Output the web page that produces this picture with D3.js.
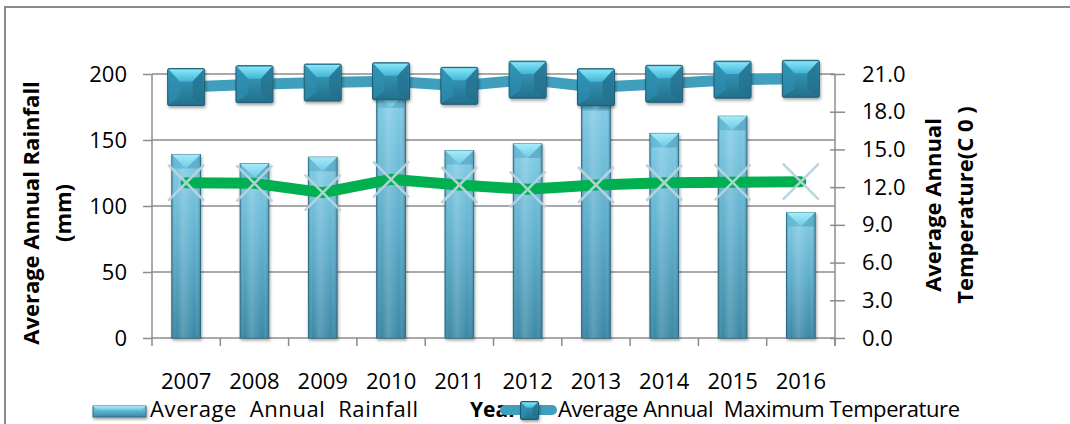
<!DOCTYPE html>
<html>
<head>
<meta charset="utf-8">
<script src="https://cdn.jsdelivr.net/npm/d3@7/dist/d3.min.js"></script>
<style>
  html, body { margin: 0; padding: 0; background: #fff; }
  svg { display: block; }
  text { font-family: "Open Sans", "Noto Sans", sans-serif; fill: #000; }
</style>
</head>
<body>
<svg id="chart" width="1070" height="424"></svg>
<script>
// ---------------- data ----------------
const years = ["2007","2008","2009","2010","2011","2012","2013","2014","2015","2016"];
const rainfall = [139, 132, 137, 185, 142, 147, 183, 155, 168, 95];            // mm
const maxTemp = [19.96, 20.19, 20.32, 20.42, 20.06, 20.55, 19.95, 20.22, 20.55, 20.62]; // °C
const meanTemp = [12.35, 12.3, 11.56, 12.62, 12.17, 11.83, 12.17, 12.35, 12.38, 12.43]; // °C
const rainTicks = [0, 50, 100, 150, 200];
const tempTicks = [0, 3, 6, 9, 12, 15, 18, 21];
const labels = {
  yLeft: ["Average Annual Rainfall", "(mm)"],
  yRight: ["Average Annual", "Temperature(C 0 )"],
  x: "Year",
  legendRain: "Average  Annual  Rainfall",
  legendTemp: "Average Annual  Maximum Temperature"
};

// ---------------- layout ----------------
const svg = d3.select("#chart");
const plot = { left: 152, right: 835, top: 74, bottom: 338 };

const x = d3.scaleBand().domain(years).range([plot.left, plot.right]).padding(0);
const yL = d3.scaleLinear().domain([0, 200]).range([plot.bottom, plot.top]);
const yR = d3.scaleLinear().domain([0, 21]).range([plot.bottom, plot.top]);
const cx = d => x(d) + x.bandwidth() / 2;

// ---------------- defs ----------------
const defs = svg.append("defs");
const shadow = defs.append("filter").attr("id", "shadow")
  .attr("x", "-30%").attr("y", "-30%").attr("width", "160%").attr("height", "160%");
shadow.append("feDropShadow").attr("dx", 1).attr("dy", 2).attr("stdDeviation", 1.5)
  .attr("flood-color", "#000").attr("flood-opacity", 0.35);

const barGrad = defs.append("linearGradient").attr("id", "barV").attr("x1", 0).attr("y1", 0).attr("x2", 0).attr("y2", 1);
barGrad.append("stop").attr("offset", "0%").attr("stop-color", "#82cde7");
barGrad.append("stop").attr("offset", "50%").attr("stop-color", "#5eaecc");
barGrad.append("stop").attr("offset", "100%").attr("stop-color", "#3a87a5");

const barH = defs.append("linearGradient").attr("id", "barH").attr("x1", 0).attr("y1", 0).attr("x2", 1).attr("y2", 0);
barH.append("stop").attr("offset", "0%").attr("stop-color", "#1d5a70").attr("stop-opacity", 0.35);
barH.append("stop").attr("offset", "15%").attr("stop-color", "#ffffff").attr("stop-opacity", 0.0);
barH.append("stop").attr("offset", "40%").attr("stop-color", "#ffffff").attr("stop-opacity", 0.18);
barH.append("stop").attr("offset", "80%").attr("stop-color", "#ffffff").attr("stop-opacity", 0.0);
barH.append("stop").attr("offset", "100%").attr("stop-color", "#1d5a70").attr("stop-opacity", 0.35);

const capGrad = defs.append("linearGradient").attr("id", "cap").attr("x1", 0).attr("y1", 0).attr("x2", 0).attr("y2", 1);
capGrad.append("stop").attr("offset", "0%").attr("stop-color", "#a6ecfa");
capGrad.append("stop").attr("offset", "100%").attr("stop-color", "#6cc9e3");

const mkGrad = defs.append("linearGradient").attr("id", "mk").attr("x1", 0).attr("y1", 0).attr("x2", 0).attr("y2", 1);
mkGrad.append("stop").attr("offset", "0%").attr("stop-color", "#3aa3c4");
mkGrad.append("stop").attr("offset", "100%").attr("stop-color", "#236f8c");

const mkTop = defs.append("linearGradient").attr("id", "mkTop").attr("x1", 0).attr("y1", 0).attr("x2", 0).attr("y2", 1);
mkTop.append("stop").attr("offset", "0%").attr("stop-color", "#86e6f8");
mkTop.append("stop").attr("offset", "100%").attr("stop-color", "#42b6d6");

// ---------------- outer frame ----------------
svg.append("path").attr("d", "M5,430 L5,7 L1075,7")
  .attr("fill", "none").attr("stroke", "#8c8c8c").attr("stroke-width", 2);

// ---------------- gridlines ----------------
svg.append("g").selectAll("line").data(rainTicks.filter(d => d > 0)).join("line")
  .attr("x1", plot.left).attr("x2", plot.right)
  .attr("y1", d => yL(d)).attr("y2", d => yL(d))
  .attr("stroke", "#8c8c8c").attr("stroke-width", 1.5);

// ---------------- axes ----------------
const axisStyle = g => {
  g.select(".domain").attr("stroke", "#8c8c8c").attr("stroke-width", 1.5);
  g.selectAll(".tick line").attr("stroke", "#8c8c8c").attr("stroke-width", 1.5);
  g.selectAll(".tick text").attr("font-size", 22).attr("fill", "#000")
    .attr("font-family", "'Open Sans', sans-serif");
};

const leftAxis = svg.append("g").attr("transform", `translate(${plot.left},0)`)
  .call(d3.axisLeft(yL).tickValues(rainTicks).tickSize(9).tickSizeOuter(0).tickPadding(16).tickFormat(d3.format("d")));
axisStyle(leftAxis);
leftAxis.select(".domain").attr("d", `M0,${plot.top}V${plot.bottom + 8}`);

const rightAxis = svg.append("g").attr("transform", `translate(${plot.right},0)`)
  .call(d3.axisRight(yR).tickValues(tempTicks).tickSize(10).tickSizeOuter(0).tickPadding(17).tickFormat(d3.format(".1f")));
axisStyle(rightAxis);
rightAxis.selectAll(".tick line").attr("x1", -5);
rightAxis.select(".domain").attr("d", `M0,${plot.top}V${plot.bottom + 8}`);

const bottomAxis = svg.append("g").attr("transform", `translate(0,${plot.bottom})`)
  .call(d3.axisBottom(x).tickSize(0).tickSizeOuter(0).tickPadding(35));
axisStyle(bottomAxis);
bottomAxis.select(".domain").attr("d", `M${plot.left},0H${plot.right}`);
// category boundary ticks
svg.append("g").selectAll("line").data(years).join("line")
  .attr("x1", d => x(d) + x.bandwidth()).attr("x2", d => x(d) + x.bandwidth())
  .attr("y1", plot.bottom).attr("y2", plot.bottom + 8)
  .attr("stroke", "#8c8c8c").attr("stroke-width", 1.5);

// ---------------- bars ----------------
const bw = x.bandwidth() * 0.42;
const bars = svg.append("g").selectAll("g").data(years).join("g").attr("filter", "url(#shadow)");
bars.each(function (d, i) {
  const g = d3.select(this);
  const x0 = cx(d) - bw / 2, top = yL(rainfall[i]), h = plot.bottom - top;
  g.append("rect").attr("x", x0).attr("y", top).attr("width", bw).attr("height", h)
    .attr("fill", "url(#barV)").attr("stroke", "#2e6f87").attr("stroke-width", 1);
  g.append("rect").attr("x", x0).attr("y", top).attr("width", bw).attr("height", h)
    .attr("fill", "url(#barH)");
  g.append("path")
    .attr("d", `M${x0},${top} L${x0 + bw},${top} L${x0 + bw / 2},${top + 14} Z`)
    .attr("fill", "url(#cap)");
  g.append("path")
    .attr("d", `M${x0},${top} L${x0 + bw / 2},${top + 14} L${x0},${top + 14} Z`)
    .attr("fill", "#4aa3c3").attr("opacity", 0.45);
  g.append("path")
    .attr("d", `M${x0 + bw},${top} L${x0 + bw / 2},${top + 14} L${x0 + bw},${top + 14} Z`)
    .attr("fill", "#3b8fae").attr("opacity", 0.45);
});

// ---------------- mean temperature line (green) ----------------
const lineR = d3.line().x((d, i) => cx(years[i])).y(d => yR(d));
svg.append("path").datum(meanTemp).attr("d", lineR)
  .attr("fill", "none").attr("stroke", "#00b050").attr("stroke-width", 11)
  .attr("stroke-linejoin", "round").attr("stroke-linecap", "round");

const xs = 18;
svg.append("g").selectAll("path").data(meanTemp).join("path")
  .attr("d", (d, i) => {
    const px = cx(years[i]), py = yR(d);
    return `M${px - xs},${py - xs}L${px + xs},${py + xs}M${px + xs},${py - xs}L${px - xs},${py + xs}`;
  })
  .attr("stroke", "#b7d3de").attr("stroke-width", 2.5).attr("fill", "none").attr("opacity", 0.95);

// ---------------- max temperature line + markers ----------------
svg.append("path").datum(maxTemp).attr("d", lineR)
  .attr("fill", "none").attr("stroke", "#3f9fbd").attr("stroke-width", 11)
  .attr("stroke-linejoin", "round").attr("stroke-linecap", "round");

function drawMarker(g, px, py, s) {
  const h = s / 2;
  const m = g.append("g").attr("filter", "url(#shadow)");
  m.append("rect").attr("x", px - h).attr("y", py - h).attr("width", s).attr("height", s)
    .attr("rx", 1.5).attr("fill", "url(#mk)").attr("stroke", "#1f5c73").attr("stroke-width", 1);
  m.append("path")
    .attr("d", `M${px - h + 1},${py - h + 1} L${px + h - 1},${py - h + 1} L${px + h * 0.35},${py - h * 0.3} L${px - h * 0.35},${py - h * 0.3} Z`)
    .attr("fill", "url(#mkTop)");
  m.append("path")
    .attr("d", `M${px - h + 1},${py - h + 1} L${px - h * 0.35},${py - h * 0.3} L${px - h * 0.35},${py + h * 0.55} L${px - h + 1},${py + h - 1} Z`)
    .attr("fill", "#2d8fb0").attr("opacity", 0.7);
  m.append("path")
    .attr("d", `M${px + h - 1},${py - h + 1} L${px + h * 0.35},${py - h * 0.3} L${px + h * 0.35},${py + h * 0.55} L${px + h - 1},${py + h - 1} Z`)
    .attr("fill", "#246f8b").attr("opacity", 0.7);
}
const mg = svg.append("g");
maxTemp.forEach((d, i) => drawMarker(mg, cx(years[i]), yR(d), 37));

// ---------------- axis titles ----------------
svg.append("text")
  .attr("transform", `translate(39,213) rotate(-90)`)
  .attr("text-anchor", "middle").attr("font-weight", "bold").attr("font-size", 22)
  .text(labels.yLeft[0]);
svg.append("text")
  .attr("transform", `translate(71,213) rotate(-90)`)
  .attr("text-anchor", "middle").attr("font-weight", "bold").attr("font-size", 22)
  .text(labels.yLeft[1]);
svg.append("text")
  .attr("transform", `translate(941,205) rotate(-90)`)
  .attr("text-anchor", "middle").attr("font-weight", "bold").attr("font-size", 22)
  .text(labels.yRight[0]);
svg.append("text")
  .attr("transform", `translate(973,205) rotate(-90)`)
  .attr("text-anchor", "middle").attr("font-weight", "bold").attr("font-size", 22)
  .text(labels.yRight[1]);
svg.append("text").attr("x", 470).attr("y", 417)
  .attr("font-weight", "bold").attr("font-size", 21).text(labels.x);

// ---------------- legend ----------------
const lg = svg.append("g");
// rainfall swatch
lg.append("rect").attr("x", 93).attr("y", 406).attr("width", 53).attr("height", 11)
  .attr("fill", "url(#barV)").attr("stroke", "#2e6f87").attr("stroke-width", 1).attr("filter", "url(#shadow)");
lg.append("path").attr("d", "M93,406 L146,406 L141,410 L98,410 Z").attr("fill", "url(#cap)");
lg.append("text").attr("x", 150).attr("y", 417).attr("font-size", 22)
  .style("white-space", "pre").attr("textLength", 268).attr("lengthAdjust", "spacing")
  .text(labels.legendRain);
// max temp swatch
lg.append("line").attr("x1", 505).attr("x2", 552).attr("y1", 410).attr("y2", 410)
  .attr("stroke", "#3f9fbd").attr("stroke-width", 10).attr("stroke-linecap", "round");
drawMarker(lg, 529.5, 410.5, 18);
lg.append("text").attr("x", 558).attr("y", 417).attr("font-size", 22)
  .style("white-space", "pre").attr("textLength", 402).attr("lengthAdjust", "spacing")
  .text(labels.legendTemp);
</script>
</body>
</html>
